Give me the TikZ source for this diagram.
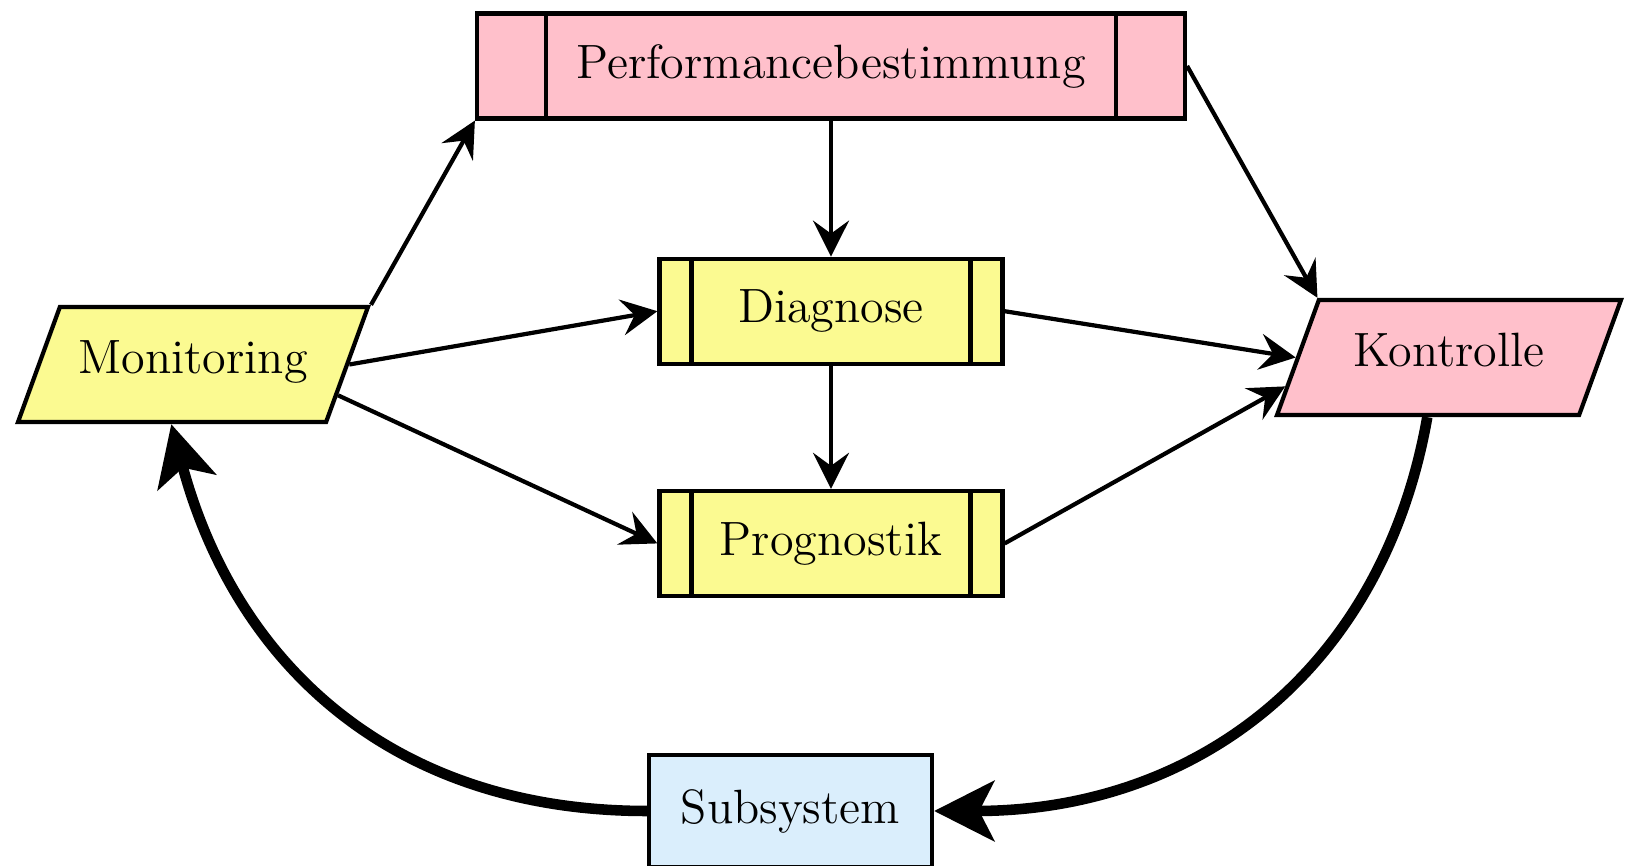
\documentclass[tikz,border=0pt]{standalone}
\usepackage{tikz}
\usetikzlibrary{arrows.meta, positioning, shapes.geometric}

\definecolor{procyellow}{RGB}{251,250,145}
\definecolor{ctrlpink}{RGB}{255,192,203}
\definecolor{sysblue}{RGB}{218,238,252}

\begin{document}
\begin{tikzpicture}[
  >={Stealth[length=3.6mm,width=3.6mm,inset=1.3mm]},
  procbox/.style={draw,very thick,minimum height=1.05cm,font=\fontsize{13.7}{16}\selectfont,
    path picture={\draw[very thick]
      ([xshift=#1]path picture bounding box.north west) -- ([xshift=#1]path picture bounding box.south west)
      ([xshift=-#1]path picture bounding box.north east) -- ([xshift=-#1]path picture bounding box.south east);}},
  iobox/.style={draw,very thick,trapezium,trapezium left angle=70,trapezium right angle=110,
    trapezium stretches body,text height=0.75em,text depth=0.25em,inner ysep=0.4cm,
    font=\fontsize{13.7}{16}\selectfont},
  sysbox/.style={draw,very thick,fill=sysblue,minimum width=2.83cm,minimum height=1.12cm,
    font=\fontsize{13.7}{16}\selectfont},
  arrow/.style={->,very thick},
  bigarrow/.style={-{Stealth[length=6mm,width=6mm,inset=1.5mm]},line width=3pt}
]
\useasboundingbox (0,0) rectangle (16.25,8.66);

% ----- Prozesse -------------------------------------------------------------
\node[procbox=0.69cm,fill=ctrlpink,minimum width=7.08cm] (perf) at (8.31,8.00) {Performancebestimmung};
\node[procbox=0.32cm,fill=procyellow,minimum width=3.43cm,below=1.36cm of perf] (diag) {Diagnose};
\node[procbox=0.32cm,fill=procyellow,minimum width=3.43cm,below=1.23cm of diag] (prog) {Prognostik};

% ----- Ein-/Ausgabe und System -----------------------------------------------
\node[iobox,fill=procyellow,minimum width=3.5cm] (mon) at (1.93,5.015) {Monitoring};
\node[iobox,fill=ctrlpink,minimum width=3.44cm] (kon) at (14.49,5.085) {Kontrolle};
\node[sysbox] (sub) at (7.905,0.55) {Subsystem};

% ----- Pfeile ----------------------------------------------------------------
\draw[arrow] (mon.top right corner) -- (perf.south west);
\draw[arrow] (perf.south) -- (diag.north);
\draw[arrow] (perf.east) -- (kon.top left corner);
\draw[arrow] (mon.east) -- (diag.west);
\draw[arrow] (mon.-12) -- (prog.west);
\draw[arrow] (diag.south) -- (prog.north);
\draw[arrow] (diag.east) -- (kon.west);
\draw[arrow] (prog.east) -- (kon.190);

% ----- Regelkreis ------------------------------------------------------------
\draw[bigarrow] (kon.bottom side) to[out=-100,in=0,looseness=1.05] (sub.east);
\draw[bigarrow] (sub.west) to[out=180,in=-75,looseness=1.05] (mon.bottom side);

\end{tikzpicture}
\end{document}
